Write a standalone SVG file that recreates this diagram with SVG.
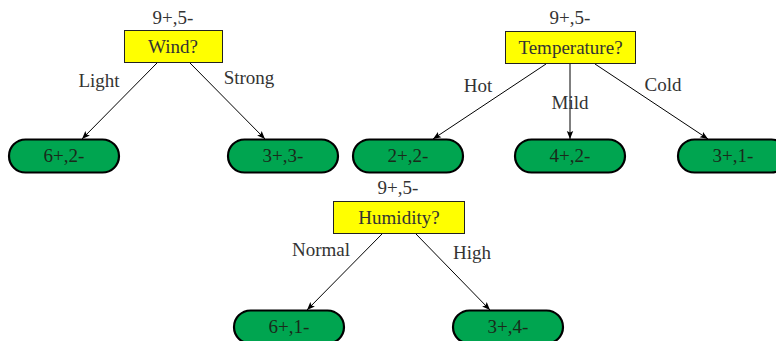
<svg xmlns="http://www.w3.org/2000/svg" width="776" height="341" viewBox="0 0 776 341">
<defs>
<marker id="ah" viewBox="0 0 10 10" refX="10" refY="5" markerWidth="8" markerHeight="8" markerUnits="userSpaceOnUse" orient="auto">
<path d="M0,1 L10,5 L0,9 L2,5 Z" fill="#000"/>
</marker>
<style>
text{font-family:"Liberation Serif","DejaVu Serif",serif;font-size:19px;fill:#333;text-anchor:middle}
.q{fill:#ffff00;stroke:#222;stroke-width:1}
.leaf{fill:#00a550;stroke:#000;stroke-width:2.2}
.c line{stroke:#000;stroke-width:1;marker-end:url(#ah)}
.lt{fill:#1a2a1a}
</style>
</defs>
<rect width="776" height="341" fill="#fff"/>
<g class="c" id="connectors">
<line x1="157" y1="63" x2="82" y2="139"/>
<line x1="190" y1="63" x2="265" y2="139"/>
<line x1="546" y1="64" x2="433" y2="139"/>
<line x1="570" y1="64" x2="570" y2="139"/>
<line x1="595" y1="64" x2="708" y2="139"/>
<line x1="382" y1="234" x2="307" y2="310"/>
<line x1="416" y1="234" x2="490" y2="310"/>
<text x="99" y="87">Light</text>
<text x="249" y="84">Strong</text>
<text x="478" y="92">Hot</text>
<text x="570" y="109">Mild</text>
<text x="663" y="91">Cold</text>
<text x="321" y="256">Normal</text>
<text x="472" y="259">High</text>
</g>
<g id="wind">
<text x="173" y="24">9+,5-</text>
<rect class="q" x="124.5" y="30.5" width="98" height="32"/>
<text x="173" y="53">Wind?</text>
</g>
<g id="temperature">
<text x="570" y="24">9+,5-</text>
<rect class="q" x="505.5" y="31.5" width="130" height="32"/>
<text x="570.5" y="54">Temperature?</text>
</g>
<g id="humidity">
<text x="398" y="194">9+,5-</text>
<rect class="q" x="333.5" y="201.5" width="131" height="32"/>
<text x="399" y="224">Humidity?</text>
</g>
<g id="leaf-w1"><rect class="leaf" x="9" y="139.5" width="110" height="33" rx="16.5"/><text class="lt" x="64" y="162">6+,2-</text></g>
<g id="leaf-w2"><rect class="leaf" x="228" y="139.5" width="110" height="33" rx="16.5"/><text class="lt" x="283" y="162">3+,3-</text></g>
<g id="leaf-t1"><rect class="leaf" x="353" y="139.5" width="110" height="33" rx="16.5"/><text class="lt" x="408" y="162">2+,2-</text></g>
<g id="leaf-t2"><rect class="leaf" x="515" y="139.5" width="110" height="33" rx="16.5"/><text class="lt" x="570" y="162">4+,2-</text></g>
<g id="leaf-t3"><rect class="leaf" x="678" y="139.5" width="110" height="33" rx="16.5"/><text class="lt" x="733" y="162">3+,1-</text></g>
<g id="leaf-h1"><rect class="leaf" x="234" y="310.5" width="110" height="33" rx="16.5"/><text class="lt" x="289" y="333">6+,1-</text></g>
<g id="leaf-h2"><rect class="leaf" x="453" y="310.5" width="110" height="33" rx="16.5"/><text class="lt" x="508" y="333">3+,4-</text></g>
</svg>
